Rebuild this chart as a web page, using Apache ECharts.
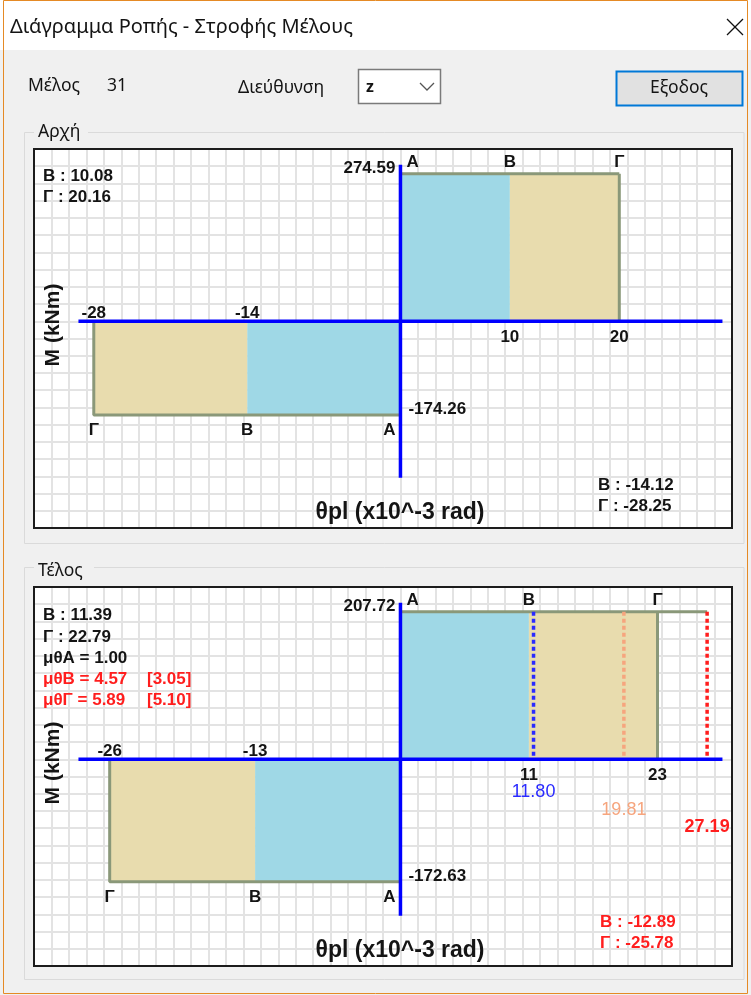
<!DOCTYPE html>
<html>
<head>
<meta charset="utf-8">
<script src="https://cdn.jsdelivr.net/npm/echarts/dist/echarts.min.js"></script>
<style>
html, body { margin: 0; padding: 0; background: #f0f0f0; }
#chart { width: 751px; height: 995px; }
</style>
</head>
<body>
<div id="chart"></div>
<script>
var pointNames = ['Α', 'Β', 'Γ'];

// Αρχή
var startThetaPos = [0, 10.08, 20.16];
var startThetaNeg = [0, -14.12, -28.25];
var startMoment = [274.59, -174.26];
var startTickPos = ['10', '20'];
var startTickNeg = ['-14', '-28'];

// Τέλος
var endThetaPos = [0, 11.39, 22.79];
var endThetaNeg = [0, -12.89, -25.78];
var endMoment = [207.72, -172.63];
var endTickPos = ['11', '23'];
var endTickNeg = ['-13', '-26'];
var endLimits = [11.80, 19.81, 27.19];
var muTheta = [1.00, 4.57, 5.89];
var muThetaAllow = [null, 3.05, 5.10];

var limitColors = ['#2a2aff', '#f6a57e', '#ff1e1e'];
var limitWeights = ['normal', 'normal', 'bold'];
var fillColors = ['#9fd8e6', '#e8dcae'];
var RED = '#ff1e1e';
var FONT = '"Liberation Sans", Arial, sans-serif';
var BOLD = 'bold 17px ' + FONT;
var UI = '17.5px "Noto Sans", sans-serif';

var plotLeft = 34, plotW = 698, plotH = 379, plotTops = [149, 587];
var cols = 40, rows = 22, originCol = 21, originRow = 10;
var cellW = plotW / cols, cellH = plotH / rows;

var option = {
    animation: false,
    grid: [], xAxis: [], yAxis: [], series: [], graphic: []
};

function seg(ax, ay, pts, color, width, dash, z) {
    return {
        type: 'line', xAxisIndex: ax, yAxisIndex: ay, data: pts,
        symbol: 'none', silent: true, z: z, clip: false,
        lineStyle: { color: color, width: width, type: dash || 'solid', cap: 'butt' }
    };
}

function addPlot(k, thPos, thNeg, mom, tickPos, tickNeg, limits) {
    var top = plotTops[k];
    var gPaper = option.grid.length;
    option.grid.push({ left: plotLeft, top: top, width: plotW, height: plotH, show: true,
        backgroundColor: '#fff', borderWidth: 0 });
    option.grid.push({ left: plotLeft, top: top, width: plotW, height: plotH });
    var paperAxis = {
        gridIndex: gPaper, type: 'value', interval: 1,
        axisLine: { show: false }, axisTick: { show: false }, axisLabel: { show: false },
        splitLine: { lineStyle: { color: '#e3e3e3', width: 2 } }
    };
    option.xAxis.push(Object.assign({ min: -originCol, max: cols - originCol }, paperAxis));
    option.yAxis.push(Object.assign({ min: originRow - rows, max: originRow }, paperAxis));

    var allTh = thPos.concat(thNeg, limits).map(Math.abs);
    var maxTh = Math.max.apply(null, allTh);
    var maxM = Math.max(Math.abs(mom[0]), Math.abs(mom[1]));
    var xExt = 1.05 * maxTh, xPx = 322 / xExt;
    var yPx = 147.5 / maxM, yExt = 156.5 / yPx;
    option.xAxis.push({ gridIndex: gPaper + 1, type: 'value', show: false,
        min: -originCol * cellW / xPx, max: (cols - originCol) * cellW / xPx });
    option.yAxis.push({ gridIndex: gPaper + 1, type: 'value', show: false,
        min: (originRow - rows) * cellH / yPx, max: originRow * cellH / yPx });
    var ax = option.xAxis.length - 1, ay = option.yAxis.length - 1;

    var rects = [
        [thPos[0], thPos[1], mom[0], 0], [thPos[1], thPos[2], mom[0], 1],
        [thNeg[0], thNeg[1], mom[1], 0], [thNeg[1], thNeg[2], mom[1], 1]
    ];
    option.series.push({
        type: 'custom', xAxisIndex: ax, yAxisIndex: ay, z: 2, silent: true, data: rects,
        renderItem: function (params, api) {
            var p0 = api.coord([api.value(0), 0]);
            var p1 = api.coord([api.value(1), api.value(2)]);
            return {
                type: 'rect',
                shape: { x: Math.min(p0[0], p1[0]), y: Math.min(p0[1], p1[1]),
                    width: Math.abs(p1[0] - p0[0]), height: Math.abs(p1[1] - p0[1]) },
                style: { fill: fillColors[api.value(3)] }
            };
        }
    });

    var outline = '#8a9879';
    var topEnd = Math.max.apply(null, [thPos[2]].concat(limits));
    option.series.push(seg(ax, ay, [[0, mom[0]], [topEnd, mom[0]]], outline, 3, null, 3));
    option.series.push(seg(ax, ay, [[thPos[2], mom[0]], [thPos[2], 0]], outline, 3, null, 3));
    option.series.push(seg(ax, ay, [[thNeg[2], 0], [thNeg[2], mom[1]], [0, mom[1]]], outline, 3, null, 3));

    limits.forEach(function (v, i) {
        option.series.push(seg(ax, ay, [[v, mom[0]], [v, 0]], limitColors[i], 3.5, [4, 3], 4));
    });

    option.series.push(seg(ax, ay, [[-xExt, 0], [xExt, 0]], '#0000ff', 3.5, null, 5));
    option.series.push(seg(ax, ay, [[0, -yExt], [0, yExt]], '#0000ff', 3.5, null, 5));

    var labs = [
        { v: [0, mom[0]], t: mom[0].toFixed(2), dx: -5, dy: -5, align: 'right' },
        { v: [0, mom[0]], t: pointNames[0], dx: 6, dy: -11, align: 'left' },
        { v: [thPos[1], mom[0]], t: pointNames[1], dy: -11 },
        { v: [thPos[2], mom[0]], t: pointNames[2], dy: -11 },
        { v: [thPos[1], 0], t: tickPos[0], dy: 16 },
        { v: [thPos[2], 0], t: tickPos[1], dy: 16 },
        { v: [thNeg[1], 0], t: tickNeg[0], dy: -8 },
        { v: [thNeg[2], 0], t: tickNeg[1], dy: -8 },
        { v: [0, mom[1]], t: mom[1].toFixed(2), dx: 8, dy: -6, align: 'left' },
        { v: [thNeg[2], mom[1]], t: pointNames[2], dy: 15 },
        { v: [thNeg[1], mom[1]], t: pointNames[1], dy: 15 },
        { v: [0, mom[1]], t: pointNames[0], dx: -5, dy: 15, align: 'right' }
    ];
    limits.forEach(function (v, i) {
        labs.push({ v: [v, 0], t: v.toFixed(2), dy: 33 + 17.3 * i, color: limitColors[i],
            font: limitWeights[i] + ' 18px ' + FONT });
    });
    option.series.push({
        type: 'custom', xAxisIndex: ax, yAxisIndex: ay, z: 10, silent: true,
        data: labs.map(function (l) { return l.v; }),
        renderItem: function (params, api) {
            var l = labs[params.dataIndex];
            var p = api.coord(l.v);
            return {
                type: 'text', x: p[0] + (l.dx || 0), y: p[1] + (l.dy || 0),
                style: { text: l.t, font: l.font || BOLD, fill: l.color || '#141414',
                    textAlign: l.align || 'center', textVerticalAlign: 'middle' }
            };
        }
    });

    // frame of the plot, above the paper lines
    option.graphic.push({ type: 'rect', z: 60,
        shape: { x: plotLeft, y: top, width: plotW, height: plotH },
        style: { fill: null, stroke: '#1c1c1c', lineWidth: 2 } });

    // axis titles
    option.graphic.push({ type: 'text', x: 53, y: top + 176, rotation: Math.PI / 2, z: 50,
        style: { text: 'M (kNm)', font: 'bold 21px ' + FONT, fill: '#141414',
            textAlign: 'center', textVerticalAlign: 'middle' } });
    option.graphic.push({ type: 'text', x: 400, y: top + 364, z: 50,
        style: { text: 'θpl (x10^-3 rad)', font: 'bold 23px ' + FONT, fill: '#141414',
            textAlign: 'center', textVerticalAlign: 'middle' } });
}

addPlot(0, startThetaPos, startThetaNeg, startMoment, startTickPos, startTickNeg, []);
addPlot(1, endThetaPos, endThetaNeg, endMoment, endTickPos, endTickNeg, endLimits);

function txt(x, y, s, font, color, align) {
    option.graphic.push({ type: 'text', x: x, y: y, z: 50,
        style: { text: s, font: font, fill: color || '#141414',
            textAlign: align || 'left', textVerticalAlign: 'middle' } });
}

// window chrome
var g = option.graphic;
g.unshift(
    { type: 'rect', z: 0, shape: { x: 0, y: 0, width: 751, height: 50 }, style: { fill: '#ffffff' } },
    { type: 'rect', z: 1, shape: { x: 3.5, y: 0.5, width: 744, height: 993 }, style: { fill: null, stroke: '#e58a25', lineWidth: 1 } },
    { type: 'polyline', z: 1, shape: { points: [[727, 19], [743, 35]] }, style: { stroke: '#111', lineWidth: 1.3 } },
    { type: 'polyline', z: 1, shape: { points: [[743, 19], [727, 35]] }, style: { stroke: '#111', lineWidth: 1.3 } },
    { type: 'rect', z: 1, shape: { x: 358.5, y: 69.5, width: 82, height: 34 }, style: { fill: '#fff', stroke: '#7a7a7a', lineWidth: 1.5 } },
    { type: 'polyline', z: 2, shape: { points: [[420, 83], [427, 90], [434, 83]] }, style: { stroke: '#555', fill: null, lineWidth: 1.3 } },
    { type: 'rect', z: 1, shape: { x: 616.5, y: 71.5, width: 126, height: 34 }, style: { fill: '#e1e1e1', stroke: '#0078d7', lineWidth: 2 } },
    { type: 'rect', z: 1, shape: { x: 24.5, y: 132.5, width: 719.5, height: 411 }, style: { fill: null, stroke: '#dadada', lineWidth: 1 } },
    { type: 'rect', z: 1, shape: { x: 24.5, y: 567.5, width: 719.5, height: 412 }, style: { fill: null, stroke: '#dadada', lineWidth: 1 } },
    { type: 'rect', z: 2, shape: { x: 34, y: 122, width: 54, height: 20 }, style: { fill: '#f0f0f0' } },
    { type: 'rect', z: 2, shape: { x: 34, y: 557, width: 60, height: 20 }, style: { fill: '#f0f0f0' } }
);

txt(10, 27, 'Διάγραμμα Ροπής - Στροφής Μέλους', '20px "Noto Sans", sans-serif');
txt(28, 86, 'Μέλος', UI);
txt(107, 86, '31', UI);
txt(238, 88, 'Διεύθυνση', UI);
txt(366, 87, 'z', 'bold 16px "Noto Sans", sans-serif');
txt(679, 88, 'Εξοδος', UI, '#141414', 'center');
txt(38, 132, 'Αρχή', UI);
txt(38, 571, 'Τέλος', UI);

// annotations, Αρχή
txt(43, 176, 'Β : ' + startThetaPos[1].toFixed(2), BOLD);
txt(43, 197, 'Γ : ' + startThetaPos[2].toFixed(2), BOLD);
txt(598, 485, 'Β : ' + startThetaNeg[1].toFixed(2), BOLD);
txt(598, 506, 'Γ : ' + startThetaNeg[2].toFixed(2), BOLD);

// annotations, Τέλος
txt(43, 615, 'Β : ' + endThetaPos[1].toFixed(2), BOLD);
txt(43, 637, 'Γ : ' + endThetaPos[2].toFixed(2), BOLD);
muTheta.forEach(function (m, i) {
    var c = muThetaAllow[i] === null ? '#141414' : RED;
    txt(43, 658 + 21 * i, 'μθ' + pointNames[i] + ' = ' + m.toFixed(2), BOLD, c);
    if (muThetaAllow[i] !== null) {
        txt(147, 658 + 21 * i, '[' + muThetaAllow[i].toFixed(2) + ']', BOLD, c);
    }
});
txt(600, 922, 'Β : ' + endThetaNeg[1].toFixed(2), BOLD, RED);
txt(600, 943, 'Γ : ' + endThetaNeg[2].toFixed(2), BOLD, RED);

var myChart = echarts.init(document.getElementById('chart'));
myChart.setOption(option);
</script>
</body>
</html>
